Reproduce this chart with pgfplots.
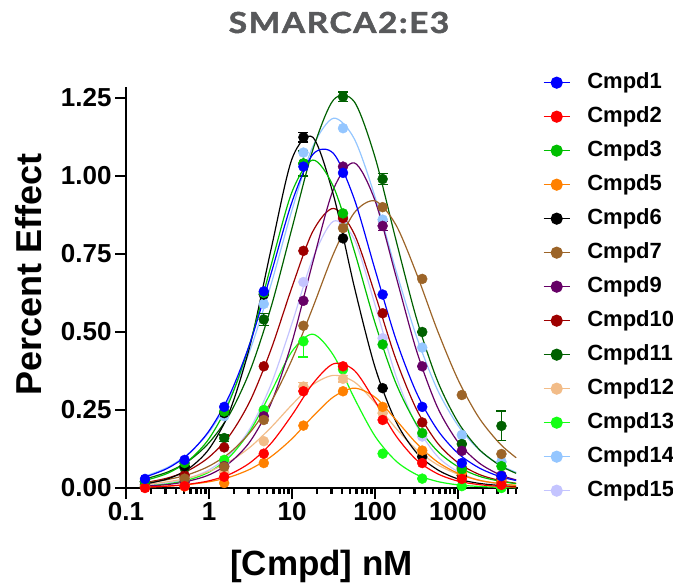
\documentclass[border=0pt]{standalone}
\usepackage{fontspec}
\setmainfont{Liberation Sans}
\newfontfamily\titlefont{Lato}[FakeStretch=1.16, LetterSpace=5, BoldFeatures={FakeBold=1.6}]
\usepackage{pgfplots}
\usepackage{pgfplotstable}
\pgfplotsset{compat=1.18}

\definecolor{cA}{HTML}{0000FF}
\definecolor{cB}{HTML}{FF0000}
\definecolor{cC}{HTML}{00BF00}
\definecolor{cE}{HTML}{FF8000}
\definecolor{cF}{HTML}{000000}
\definecolor{cG}{HTML}{9C6428}
\definecolor{cI}{HTML}{660066}
\definecolor{cJ}{HTML}{9E0000}
\definecolor{cK}{HTML}{006000}
\definecolor{cL}{HTML}{F2BC88}
\definecolor{cM}{HTML}{14FF14}
\definecolor{cN}{HTML}{94C6FF}
\definecolor{cO}{HTML}{C4C4FF}
\definecolor{titlegray}{HTML}{58595B}

% fitted curves
\pgfplotstableread{
x      c1    c2    c3    c5    c6    c7    c9    c10   c11   c12   c13   c14   c15
0.1698 0.035 0.003 0.024 0.003 0.013 0.016 0.006 0.017 0.029 0.011 0.006 0.038 0.008
0.3162 0.063 0.006 0.047 0.006 0.029 0.027 0.011 0.032 0.051 0.020 0.013 0.066 0.016
0.5623 0.108 0.012 0.087 0.011 0.061 0.043 0.022 0.056 0.086 0.032 0.026 0.110 0.031
1      0.183 0.023 0.158 0.020 0.125 0.070 0.042 0.099 0.145 0.053 0.051 0.179 0.058
1.778  0.299 0.044 0.280 0.035 0.247 0.113 0.081 0.169 0.237 0.085 0.100 0.288 0.107
3.162  0.469 0.082 0.470 0.061 0.463 0.180 0.151 0.282 0.380 0.132 0.185 0.446 0.193
5.623  0.689 0.144 0.716 0.101 0.768 0.277 0.273 0.446 0.582 0.195 0.309 0.655 0.334
10     0.917 0.234 0.949 0.158 1.055 0.412 0.468 0.644 0.833 0.267 0.438 0.891 0.528
17.78  1.069 0.334 1.051 0.229 1.124 0.578 0.723 0.822 1.083 0.331 0.493 1.094 0.735
31.62  1.072 0.398 0.965 0.292 0.938 0.751 0.958 0.896 1.244 0.361 0.425 1.185 0.855
56.23  0.926 0.377 0.760 0.320 0.645 0.882 1.042 0.814 1.238 0.340 0.288 1.119 0.797
100    0.700 0.278 0.529 0.291 0.387 0.920 0.921 0.621 1.060 0.273 0.166 0.933 0.587
177.8  0.478 0.168 0.337 0.219 0.214 0.844 0.681 0.414 0.797 0.192 0.087 0.699 0.361
316.2  0.305 0.090 0.204 0.143 0.113 0.687 0.440 0.252 0.543 0.123 0.043 0.485 0.200
562.3  0.187 0.046 0.119 0.084 0.059 0.506 0.260 0.145 0.345 0.075 0.021 0.316 0.102
1000   0.111 0.022 0.068 0.047 0.029 0.347 0.147 0.081 0.211 0.044 0.010 0.200 0.052
1778   0.065 0.011 0.038 0.025 0.015 0.226 0.081 0.044 0.125 0.025 0.005 0.123 0.025
3162   0.037 0.005 0.022 0.014 0.008 0.143 0.043 0.024 0.073 0.014 0.002 0.075 0.012
5012   0.024 0.003 0.014 0.008 0.004 0.097 0.026 0.015 0.047 0.009 0.001 0.050 0.007
}\curves

% measured points
\pgfplotstableread{
x      d1    d2    d3    d5    d6    d7    d9    d10   d11   d12   d13   d14   d15   e6    e9    e11   e12   e13
0.1694 0.029 0.000 0.020 0.002 0.020 0.010 0.005 0.010 0.020 0.003 0.005 0.025 0.010 0     0     0     0     0
0.5081 0.090 0.006 0.080 0.005 0.070 0.030 0.020 0.040 0.064 0.020 0.020 0.080 0.030 0     0     0     0     0
1.524  0.260 0.036 0.245 0.016 0.240 0.068 0.070 0.130 0.160 0.050 0.090 0.230 0.080 0     0     0.010 0     0
4.572  0.630 0.110 0.625 0.080 0.620 0.218 0.230 0.390 0.540 0.150 0.250 0.590 0.250 0     0     0.020 0     0
13.72  1.030 0.310 1.040 0.200 1.124 0.520 0.600 0.760 1.040 0.325 0.470 1.075 0.660 0.015 0     0.040 0.012 0.050
41.15  1.010 0.390 0.880 0.310 0.800 0.833 1.030 0.865 1.254 0.350 0.380 1.153 0.860 0     0     0.015 0.010 0
123.5  0.620 0.218 0.460 0.260 0.320 0.900 0.840 0.560 0.990 0.240 0.110 0.860 0.480 0     0.015 0.018 0     0
370.4  0.260 0.080 0.176 0.120 0.100 0.670 0.390 0.210 0.500 0.110 0.030 0.450 0.165 0     0     0     0     0
1111   0.080 0.029 0.060 0.048 0.040 0.298 0.119 0.064 0.141 0.040 0.006 0.170 0.070 0     0     0     0     0
3333   0.038 0.010 0.070 0.020 0.020 0.109 0.040 0.030 0.199 0.020 0.000 0.084 0.030 0     0     0.048 0     0
}\pts

\pgfplotsset{
  crv/.style={line width=1.2pt, smooth},
  pts/.style={only marks, mark=*, mark size=5pt, forget plot},
  ebar/.style={error bars/.cd, y dir=both, y explicit,
     error bar style={line width=1.2pt},
     error mark options={rotate=90, mark size=5pt, line width=1.2pt}},
}

\begin{document}
\begin{tikzpicture}
\useasboundingbox (-126pt,-98pt) rectangle (547pt,488pt);
\begin{axis}[
  scale only axis, width=391pt, height=399.4pt,
  xmode=log, xmin=0.1, xmax=5130, ymin=0, ymax=1.28,
  clip=false,
  axis x line*=bottom, axis y line*=left,
  axis line style={-, line width=2.8pt, line cap=rect},
  tick align=outside,
  major tick length=11pt, minor tick length=6pt,
  every tick/.style={black, line width=2.8pt},
  xtick={0.1,1,10,100,1000},
  xticklabels={0.1,1,10,100,1000},
  minor xtick={0.2,0.3,0.4,0.5,0.6,0.7,0.8,0.9,2,3,4,5,6,7,8,9,20,30,40,50,60,70,80,90,200,300,400,500,600,700,800,900,2000,3000,4000,5000},
  ytick={0,0.25,0.5,0.75,1,1.25},
  yticklabel style={/pgf/number format/.cd, fixed, fixed zerofill, precision=2},
  /pgf/number format/assume math mode=true,
  tick label style={font=\fontsize{26}{28}\selectfont\bfseries},
  reverse legend,
  legend cell align=left,
  legend image code/.code={
    \draw[#1] (0pt,0pt) -- (26pt,0pt);
    \fill[#1] (13pt,0pt) circle (5.5pt);
    \path (43pt,0pt);
  },
  legend style={at={(axis description cs:1.0663,1.0416)}, anchor=north west,
    draw=none, fill=none, inner sep=0pt, row sep=13pt,
    font=\fontsize{22}{24}\selectfont\bfseries,
    nodes={inner sep=0pt, text height=16pt, text depth=5pt}},
]
% drawn from Cmpd15 back to Cmpd1 so that Cmpd1 lies on top
\addplot[cO, crv] table[x=x, y=c15]{\curves}; \addlegendentry{Cmpd15}
\addplot[cO, pts] table[x=x, y=d15]{\pts};
\addplot[cN, crv] table[x=x, y=c14]{\curves}; \addlegendentry{Cmpd14}
\addplot[cN, pts] table[x=x, y=d14]{\pts};
\addplot[cM, crv] table[x=x, y=c13]{\curves}; \addlegendentry{Cmpd13}
\addplot[cM, pts, error bars/.cd, y dir=minus, y explicit,
     error bar style={line width=1.2pt},
     error mark options={rotate=90, mark size=5pt, line width=1.2pt}] table[x=x, y=d13, y error=e13]{\pts};
\addplot[cL, crv] table[x=x, y=c12]{\curves}; \addlegendentry{Cmpd12}
\addplot[cL, pts, ebar] table[x=x, y=d12, y error=e12]{\pts};
\addplot[cK, crv] table[x=x, y=c11]{\curves}; \addlegendentry{Cmpd11}
\addplot[cK, pts, ebar] table[x=x, y=d11, y error=e11]{\pts};
\addplot[cJ, crv] table[x=x, y=c10]{\curves}; \addlegendentry{Cmpd10}
\addplot[cJ, pts] table[x=x, y=d10]{\pts};
\addplot[cI, crv] table[x=x, y=c9]{\curves}; \addlegendentry{Cmpd9}
\addplot[cI, pts, ebar] table[x=x, y=d9, y error=e9]{\pts};
\addplot[cG, crv] table[x=x, y=c7]{\curves}; \addlegendentry{Cmpd7}
\addplot[cG, pts] table[x=x, y=d7]{\pts};
\addplot[cF, crv] table[x=x, y=c6]{\curves}; \addlegendentry{Cmpd6}
\addplot[cF, pts, ebar] table[x=x, y=d6, y error=e6]{\pts};
\addplot[cE, crv] table[x=x, y=c5]{\curves}; \addlegendentry{Cmpd5}
\addplot[cE, pts] table[x=x, y=d5]{\pts};
\addplot[cC, crv] table[x=x, y=c3]{\curves}; \addlegendentry{Cmpd3}
\addplot[cC, pts] table[x=x, y=d3]{\pts};
\addplot[cB, crv] table[x=x, y=c2]{\curves}; \addlegendentry{Cmpd2}
\addplot[cB, pts] table[x=x, y=d2]{\pts};
\addplot[cA, crv] table[x=x, y=c1]{\curves}; \addlegendentry{Cmpd1}
\addplot[cA, pts] table[x=x, y=d1]{\pts};
\end{axis}
\node[anchor=base, text=titlegray, font=\titlefont\bfseries\fontsize{29}{32}\selectfont] at (213pt,455pt) {SMARCA2:E3};
\node[anchor=base, font=\fontsize{35}{38}\selectfont\bfseries] at (195.5pt,-88pt) {[Cmpd] nM};
\node[anchor=base, rotate=90, font=\fontsize{36}{39}\selectfont\bfseries] at (-84pt,213.5pt) {Percent Effect};
\end{tikzpicture}
\end{document}
